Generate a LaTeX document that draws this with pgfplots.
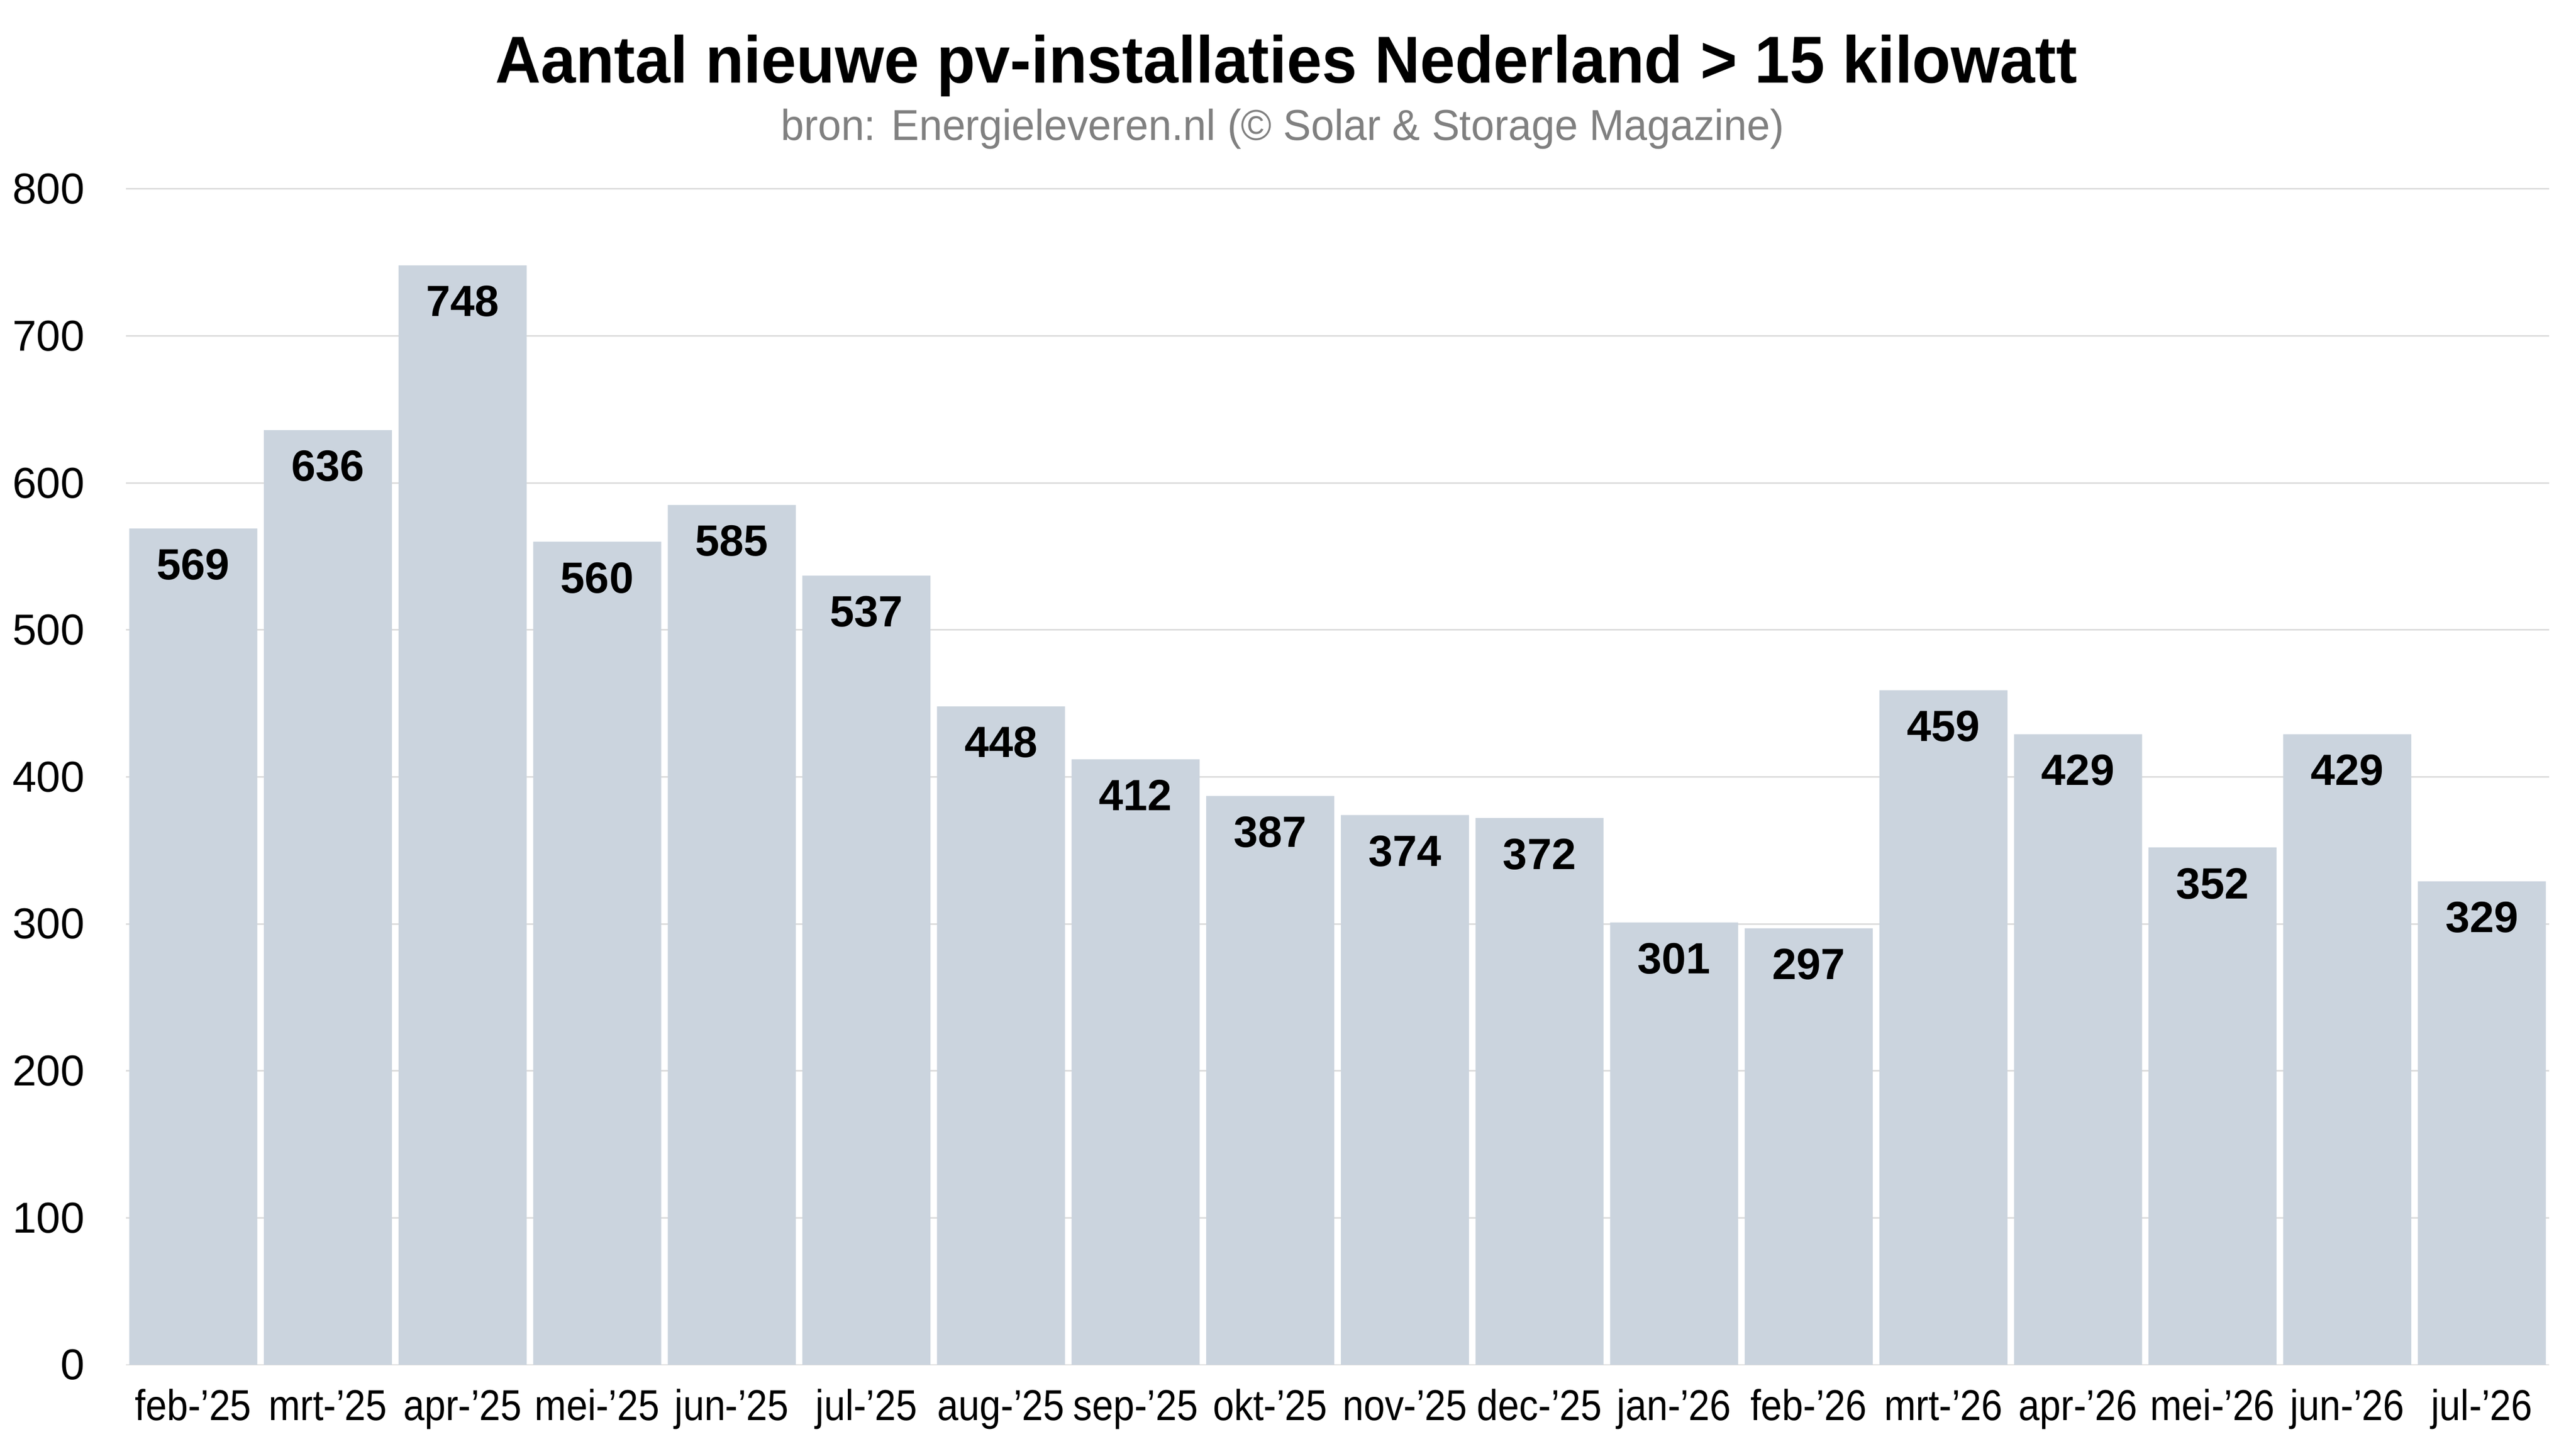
\documentclass[border=0pt]{standalone}
\usepackage{fontspec}
\setmainfont{Liberation Sans}
\newfontfamily\titlefont{Liberation Sans}[FakeStretch=0.95]
\newfontfamily\subfont{Liberation Sans}[FakeStretch=0.965]
\newfontfamily\xfont{Liberation Sans}[FakeStretch=0.88]
\usepackage{pgfplots}
\pgfplotsset{compat=1.18}
\definecolor{barc}{RGB}{203,212,222}
\definecolor{gridc}{RGB}{220,220,220}
\definecolor{subc}{RGB}{128,128,128}
\begin{document}
\begin{tikzpicture}
\useasboundingbox (0,0) rectangle (498.9bp,280.6bp);
\node[anchor=base, font=\titlefont\bfseries\fontsize{12.9}{15}\selectfont] at (249.1bp,264.5bp) {Aantal nieuwe pv-installaties Nederland > 15 kilowatt};
\node[anchor=base, text=subc, font=\subfont\fontsize{8.4}{10}\selectfont] at (248.4bp,253.4bp) {bron: Energieleveren.nl (© Solar \& Storage Magazine)};
\begin{axis}[
  at={(24.4bp,16.3bp)}, anchor=south west,
  scale only axis, width=469.3bp, height=227.7bp,
  xmin=-0.5, xmax=17.5, ymin=0, ymax=800,
  ytick={0,100,...,800},
  xtick={0,...,17},
  xticklabels={feb-’25,mrt-’25,apr-’25,mei-’25,jun-’25,jul-’25,aug-’25,sep-’25,okt-’25,nov-’25,dec-’25,jan-’26,feb-’26,mrt-’26,apr-’26,mei-’26,jun-’26,jul-’26},
  axis line style={draw=none},
  major tick style={draw=none},
  ymajorgrids, grid style={draw=gridc, line width=0.3bp},
  /pgf/number format/assume math mode=true,
  /pgf/number format/1000 sep={},
  ticklabel style={font=\fontsize{8.4}{10}\selectfont, inner sep=0pt},
  yticklabel style={anchor=east, xshift=-7.8bp},
  xticklabel style={font=\xfont\fontsize{8.4}{10}\selectfont, anchor=base, yshift=-6.5bp},
  ybar, bar width=24.8bp,
  nodes near coords,
  nodes near coords style={font=\bfseries\fontsize{8.5}{10}\selectfont, anchor=base, yshift=-9.9bp, inner sep=0pt, text=black},
]
\addplot[fill=barc, draw=none] coordinates {
(0,569) (1,636) (2,748) (3,560) (4,585) (5,537) (6,448) (7,412) (8,387)
(9,374) (10,372) (11,301) (12,297) (13,459) (14,429) (15,352) (16,429) (17,329)
};
\end{axis}
\end{tikzpicture}
\end{document}
